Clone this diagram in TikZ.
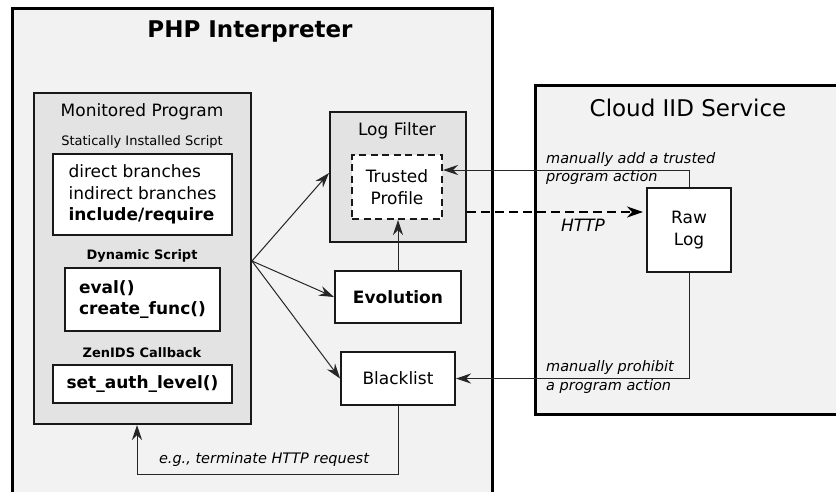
\documentclass[tikz,border=0pt]{standalone}
\usepackage{fontspec}
\setmainfont{DejaVu Sans}
\usetikzlibrary{arrows.meta,calc}

\newcommand{\fsz}[2]{\fontsize{#1}{#2}\selectfont}

\tikzset{
  outerbox/.style={draw=black, line width=3pt, fill=black!5, inner sep=0pt},
  groupbox/.style={draw=black!90, line width=2pt, fill=black!11, inner sep=0pt},
  whitebox/.style={draw=black!90, line width=2pt, fill=white, inner sep=0pt, align=center},
  dashbox/.style={whitebox, dash pattern=on 7pt off 4.5pt},
  normtxt/.style={font=\fsz{17}{21.5}},
  boldtxt/.style={font=\fsz{17}{21.5}\bfseries},
  smalltxt/.style={font=\fsz{13}{16}},
  smallbold/.style={font=\fsz{13}{16}\bfseries},
  notetxt/.style={font=\fsz{14.5}{18.5}\itshape, align=left, inner sep=0pt},
  arr/.style={line width=1pt, draw=black!85,
    -{Stealth[length=15pt, width=10pt, inset=5pt]}},
  httparr/.style={line width=2.4pt, draw=black, dash pattern=on 9pt off 5pt,
    -{Stealth[length=16pt, width=11pt, inset=5pt]}},
}

\begin{document}
\begin{tikzpicture}[x=1pt, y=-1pt]
  \useasboundingbox (0,0) rectangle (836,491);
  \clip (0,0) rectangle (836,491);
  \fill[white] (0,0) rectangle (836,491);

  % containers
  \node[outerbox, minimum width=480pt, minimum height=492pt] (php) at (252,254) {};
  \node[outerbox, minimum width=315pt, minimum height=329pt] (cloud) at (692.5,249.5) {};
  \node[font=\fsz{23}{27}\bfseries] (phptitle) at (250,32) {PHP Interpreter};
  \node[font=\fsz{23}{27}] (cloudtitle) at (688,108) {Cloud IID Service};

  % monitored program
  \node[groupbox, minimum width=217pt, minimum height=331pt] (mon) at (142.5,258.5) {};
  \node[normtxt] (montitle) at (142,112) {Monitored Program};
  \node[smalltxt] (stattitle) at (142,142) {Statically Installed Script};
  \node[whitebox, normtxt, align=left, minimum width=179pt, minimum height=81pt] (stat) at (142.5,194.5)
    {direct branches\\indirect branches\\\textbf{include/require}};
  \node[smallbold] (dyntitle) at (142,256) {Dynamic Script};
  \node[whitebox, boldtxt, align=left, minimum width=155pt, minimum height=63pt] (dyn) at (142.5,299.5)
    {eval()\\create\_func()};
  \node[smallbold] (zentitle) at (142,353) {ZenIDS Callback};
  \node[whitebox, boldtxt, minimum width=179pt, minimum height=38pt] (zen) at (142.5,384)
    {set\_auth\_level()};

  % log filter and neighbours
  \node[groupbox, minimum width=136pt, minimum height=130pt] (logf) at (398,177) {};
  \node[normtxt] (logftitle) at (397,131) {Log Filter};
  \node[dashbox, normtxt, minimum width=90pt, minimum height=64pt] (trust) at (397,187) {Trusted\\Profile};
  \node[whitebox, boldtxt, minimum width=126pt, minimum height=52pt] (evo) at (398,297) {Evolution};
  \node[whitebox, normtxt, minimum width=114pt, minimum height=53pt] (black) at (398,378.5) {Blacklist};
  \node[whitebox, normtxt, minimum width=84pt, minimum height=84pt] (raw) at (689,230) {Raw\\Log};

  % connectors
  \coordinate (fan) at ([yshift=-2.5pt]mon.east);
  \draw[arr] (fan) -- ([yshift=4pt]logf.west);
  \draw[arr] (fan) -- (evo.west);
  \draw[arr] (fan) -- (black.west);
  \draw[arr] (evo.north) -- (evo.north |- trust.south);
  \draw[arr] (raw.north) |- ([yshift=17pt]trust.east);
  \draw[httparr, shorten >=3pt] ([yshift=-35pt]logf.east) -- ([yshift=-35pt]logf.east -| raw.west);
  \draw[arr] (raw.south) |- (black.east);
  \draw[arr] (black.south) -- ++(0,68) -| ([xshift=-5.5pt]mon.south);

  % connector labels
  \node[notetxt, anchor=west] (addlbl) at (546,168.5) {manually add a trusted\\program action};
  \node[notetxt, anchor=west] (prohlbl) at (546,377) {manually prohibit\\a program action};
  \node[font=\fsz{17}{21}\itshape] (httplbl) at (583,225) {HTTP};
  \node[notetxt] (termlbl) at (264,459) {e.g., terminate HTTP request};
\end{tikzpicture}
\end{document}
